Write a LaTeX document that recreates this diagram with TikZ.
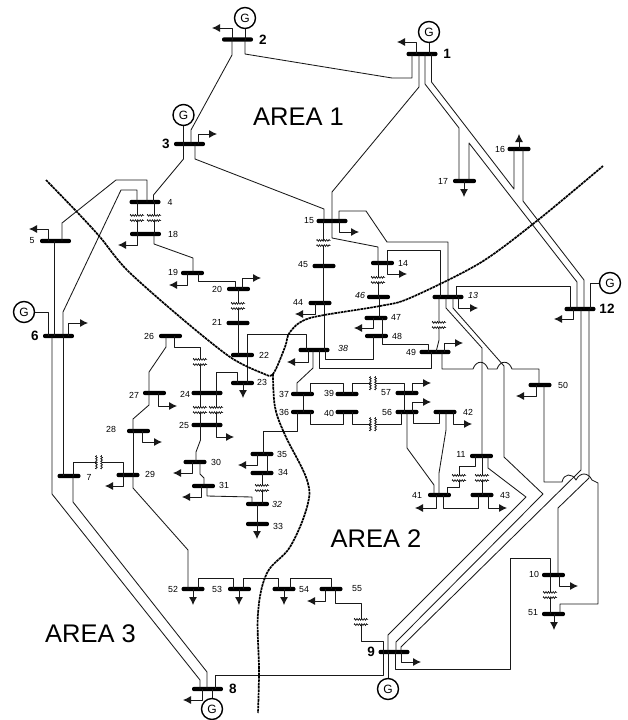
\documentclass[tikz,border=0pt]{standalone}
\usepackage{fontspec}
\setmainfont{Liberation Sans}
\usetikzlibrary{arrows.meta,decorations.pathmorphing}
\tikzset{
	bus/.style={fill=black, rounded corners=2pt, minimum width=23pt, minimum height=4.4pt, inner sep=0pt},
	mainbus/.style={bus, minimum width=31pt},
	line/.style={black!90, line width=0.85pt, line join=round},
	load/.style={line, -{Latex[length=8pt,width=8pt]}},
	gen/.style={draw, circle, line width=1.4pt, minimum size=21pt, inner sep=0pt, font=\fontsize{12}{12}\selectfont},
	num/.style={inner sep=0pt, font=\fontsize{8.8}{8.8}\selectfont},
	mainnum/.style={inner sep=0pt, font=\fontsize{13.5}{13.5}\bfseries\selectfont},
	area/.style={inner sep=0pt, font=\fontsize{25.5}{25.5}\selectfont},
	boundary/.style={black, line width=1.7pt, dash pattern=on 2.6pt off 0.7pt},
	winding/.style={line width=0.6pt, decorate, decoration={zigzag, segment length=2.4pt, amplitude=0.9pt}},
	xfmr/.pic={
		\fill[white] (-7,-2.6) rectangle (7,2.6);
		\draw[winding] (-7,-2.6) -- (7,-2.6);
		\draw[winding] (-7,2.6) -- (7,2.6);
	}
}
\newcommand{\loadarrow}[4]{\coordinate (#1t) at (#3,#4); \draw[load] (#2,0 |- #1) |- (#1t);}
\newcommand{\loaddrop}[3]{\coordinate (#1t) at (#2,#3); \draw[load] (#2,0 |- #1) -- (#1t);}
\begin{document}
\begin{tikzpicture}[x=1pt, y=-1pt]
	\useasboundingbox (0,0) rectangle (627,720);
	\node[mainbus] (b1) at (422,54) {};
	\node[mainbus] (b2) at (237.5,39.5) {};
	\node[mainbus] (b3) at (189.5,144) {};
	\node[mainbus] (b4) at (145,202) {};
	\node[mainbus] (b5) at (55.5,241) {};
	\node[mainbus] (b6) at (58.5,336) {};
	\node[bus] (b7) at (69,476) {};
	\node[mainbus] (b8) at (207.5,689) {};
	\node[mainbus] (b9) at (394,652) {};
	\node[bus] (b10) at (553.5,575) {};
	\node[bus] (b11) at (481.5,456) {};
	\node[mainbus] (b12) at (580,309) {};
	\node[mainbus] (b13) at (448,297) {};
	\node[bus] (b14) at (382.5,263) {};
	\node[mainbus] (b15) at (332,221) {};
	\node[bus] (b16) at (519,149) {};
	\node[bus] (b17) at (464.5,181) {};
	\node[mainbus] (b18) at (145.5,234) {};
	\node[bus] (b19) at (192.5,273) {};
	\node[bus] (b20) at (238.5,289) {};
	\node[bus] (b21) at (238,323) {};
	\node[bus] (b22) at (242.5,355) {};
	\node[bus] (b23) at (242.5,383) {};
	\node[mainbus] (b24) at (207,393) {};
	\node[mainbus] (b25) at (207,425) {};
	\node[bus] (b26) at (170.5,336) {};
	\node[bus] (b27) at (154.5,393) {};
	\node[bus] (b28) at (138.5,431) {};
	\node[bus] (b29) at (128,475) {};
	\node[bus] (b30) at (195,462) {};
	\node[bus] (b31) at (203.5,486) {};
	\node[bus] (b32) at (257.5,504) {};
	\node[bus] (b33) at (257.5,524) {};
	\node[bus] (b34) at (262,473) {};
	\node[bus] (b35) at (262,454) {};
	\node[bus] (b36) at (302.5,412) {};
	\node[bus] (b37) at (302.5,394) {};
	\node[mainbus] (b38) at (314,350) {};
	\node[bus] (b39) at (347,394) {};
	\node[bus] (b40) at (347,412) {};
	\node[bus] (b41) at (439.5,495) {};
	\node[bus] (b42) at (445,412) {};
	\node[bus] (b43) at (482,495) {};
	\node[bus] (b44) at (320,303) {};
	\node[bus] (b45) at (324,266) {};
	\node[bus] (b46) at (378.5,297) {};
	\node[bus] (b47) at (376,318) {};
	\node[bus] (b48) at (376.5,336) {};
	\node[mainbus] (b49) at (435,352) {};
	\node[bus] (b50) at (540,385) {};
	\node[bus] (b51) at (553.5,614) {};
	\node[bus] (b52) at (193,589) {};
	\node[bus] (b53) at (239.5,589) {};
	\node[bus] (b54) at (284,589) {};
	\node[bus] (b55) at (331,589) {};
	\node[bus] (b56) at (407,412) {};
	\node[bus] (b57) at (407,393) {};
	\node[mainnum] (n1) at (447,54) {1};
	\node[mainnum] (n2) at (263,40) {2};
	\node[mainnum] (n3) at (166,144) {3};
	\node[num] (n4) at (170,202) {4};
	\node[num] (n5) at (32,241) {5};
	\node[mainnum] (n6) at (35,336) {6};
	\node[num] (n7) at (89,477) {7};
	\node[mainnum] (n8) at (233,689) {8};
	\node[mainnum] (n9) at (371,652) {9};
	\node[num] (n10) at (534,574) {10};
	\node[num] (n11) at (461,454) {11};
	\node[mainnum] (n12) at (607,309) {12};
	\node[num] (n13) at (473,295) {\itshape 13};
	\node[num] (n14) at (403,263) {14};
	\node[num] (n15) at (309,221) {15};
	\node[num] (n16) at (500,149) {16};
	\node[num] (n17) at (443,181) {17};
	\node[num] (n18) at (173,234) {18};
	\node[num] (n19) at (173,272) {19};
	\node[num] (n20) at (217,289) {20};
	\node[num] (n21) at (217,322) {21};
	\node[num] (n22) at (264,355) {22};
	\node[num] (n23) at (262,382) {23};
	\node[num] (n24) at (185,394) {24};
	\node[num] (n25) at (184,425) {25};
	\node[num] (n26) at (149,336) {26};
	\node[num] (n27) at (134,395) {27};
	\node[num] (n28) at (111,429) {28};
	\node[num] (n29) at (150,474) {29};
	\node[num] (n30) at (216,462) {30};
	\node[num] (n31) at (224,485) {31};
	\node[num] (n32) at (277,504) {\itshape 32};
	\node[num] (n33) at (278,526) {33};
	\node[num] (n34) at (283,472) {34};
	\node[num] (n35) at (282,454) {35};
	\node[num] (n36) at (284,412) {36};
	\node[num] (n37) at (284,394) {37};
	\node[num] (n38) at (343,348) {\itshape 38};
	\node[num] (n39) at (329,393) {39};
	\node[num] (n40) at (329,413) {40};
	\node[num] (n41) at (417,495) {41};
	\node[num] (n42) at (468,412) {42};
	\node[num] (n43) at (505,495) {43};
	\node[num] (n44) at (298,302) {44};
	\node[num] (n45) at (303,265) {45};
	\node[num] (n46) at (360,295) {\itshape 46};
	\node[num] (n47) at (396,317) {47};
	\node[num] (n48) at (397,336) {48};
	\node[num] (n49) at (411,352) {49};
	\node[num] (n50) at (563,385) {50};
	\node[num] (n51) at (533,613) {51};
	\node[num] (n52) at (173,589) {52};
	\node[num] (n53) at (217,589) {53};
	\node[num] (n54) at (304,590) {54};
	\node[num] (n55) at (357,589) {55};
	\node[num] (n56) at (387,412) {56};
	\node[num] (n57) at (386,393) {57};
	\node[gen] (g1) at (429,32) {G};
	\node[gen] (g2) at (245,18) {G};
	\node[gen] (g3) at (183.5,115) {G};
	\node[gen] (g6) at (24,312) {G};
	\node[gen] (g8) at (212,709) {G};
	\node[gen] (g9) at (388,689) {G};
	\node[gen] (g12) at (610,283) {G};
	\node[area] (a1) at (298.5,117) {AREA 1};
	\node[area] (a2) at (376,539) {AREA 2};
	\node[area] (a3) at (90.5,634) {AREA 3};
	\draw[line] (g1.south) -- (429,0 |- b1);
	\draw[line] (g2.south) -- (245,0 |- b2);
	\draw[line] (g3.south) -- (183.5,0 |- b3);
	\draw[line] (g6.east) -- (48,312) -- (48,0 |- b6);
	\draw[line] (g8.north) -- (212,0 |- b8);
	\draw[line] (g9.north) -- (388,0 |- b9);
	\draw[line] (g12.west) -- (590,283) -- (590,0 |- b12);
	\draw[line] (245,0 |- b2) -- (245,54) -- (392,78) -- (412,78) -- (412,0 |- b1);
	\draw[line] (232,0 |- b2) -- (232,55) -- (191,130) -- (191,0 |- b3);
	\draw[line] (183.5,0 |- b3) -- (183.5,159) -- (153.5,195) -- (153.5,0 |- b4);
	\draw[line] (195,0 |- b3) -- (195,159) -- (324,209) -- (324,0 |- b15);
	\draw[line] (147,0 |- b4) -- (147,180) -- (116,180) -- (62,223) -- (62,0 |- b5);
	\draw[line] (137,0 |- b4) -- (137,190) -- (121,190) -- (63,312) -- (63,0 |- b6);
	\draw[line] (137,0 |- b4) -- (137,0 |- b18);
	\draw[line] (154,0 |- b4) -- (154,0 |- b18);
	\draw[line] (54,0 |- b5) -- (54,0 |- b6);
	\draw[line] (52,0 |- b6) -- (52,494) -- (200,680) -- (200,0 |- b8);
	\draw[line] (63,0 |- b6) -- (63,0 |- b7);
	\draw[line] (73,0 |- b7) -- (73,502) -- (207,672) -- (207,0 |- b8);
	\draw[line] (73,0 |- b7) -- (73,462) -- (123,462) -- (123,0 |- b29);
	\draw[line] (154,0 |- b18) -- (154,244) -- (193,258) -- (193,0 |- b19);
	\draw[line] (198,0 |- b19) -- (198,281) -- (235,281) -- (235,0 |- b20);
	\draw[line] (238,0 |- b20) -- (238,0 |- b21);
	\draw[line] (238,0 |- b21) -- (238,0 |- b22);
	\draw[line] (247,0 |- b22) -- (247,334) -- (306,334) -- (306,0 |- b38);
	\draw[line] (247,0 |- b22) -- (247,0 |- b23);
	\draw[line] (174,0 |- b26) -- (174,347) -- (200,347) -- (200,0 |- b24);
	\draw[line] (166,0 |- b26) -- (166,347) -- (149,372) -- (149,0 |- b27);
	\draw[line] (149,0 |- b27) -- (149,405) -- (133,419) -- (133,0 |- b28);
	\draw[line] (133,0 |- b28) -- (133,0 |- b29);
	\draw[line] (133,0 |- b29) -- (133,488) -- (188,550) -- (188,0 |- b52);
	\draw[line] (200,0 |- b24) -- (200,0 |- b25);
	\draw[line] (216,0 |- b24) -- (216,0 |- b25);
	\draw[line] (216,0 |- b24) -- (216,372) -- (237,372) -- (237,0 |- b23);
	\draw[line] (200.5,0 |- b25) -- (200.5,440) -- (196,452) -- (196,0 |- b30);
	\draw[line] (200,0 |- b30) -- (200,474) -- (204,478) -- (204,0 |- b31);
	\draw[line] (207,0 |- b31) -- (207,496) -- (252,497) -- (252,0 |- b32);
	\draw[line] (257,0 |- b32) -- (257,0 |- b33);
	\draw[line] (262,0 |- b34) -- (262,0 |- b32);
	\draw[line] (267,0 |- b35) -- (267,0 |- b34);
	\draw[line] (263,0 |- b35) -- (263,431) -- (297,431) -- (297,0 |- b36);
	\draw[line] (303,0 |- b37) -- (303,0 |- b36);
	\draw[line] (310,0 |- b37) -- (310,383) -- (343,383) -- (343,0 |- b39);
	\draw[line] (310,0 |- b36) -- (310,424) -- (343,424) -- (343,0 |- b40);
	\draw[line] (352,0 |- b39) -- (352,383) -- (404,383) -- (404,0 |- b57);
	\draw[line] (352,0 |- b40) -- (352,424) -- (401,424) -- (401,0 |- b56);
	\draw[line] (404,0 |- b57) -- (404,0 |- b56);
	\draw[line] (413,0 |- b56) -- (413,423) -- (439,423) -- (439,0 |- b42);
	\draw[line] (446,0 |- b42) -- (446,430) -- (439,473) -- (439,0 |- b41);
	\draw[line] (407,0 |- b56) -- (407,448) -- (434,485) -- (434,0 |- b41);
	\draw[line] (443,0 |- b41) -- (443,508) -- (478,508) -- (478,0 |- b43);
	\draw[line] (475,0 |- b11) -- (475,466) -- (459,466) -- (459,487) -- (447,487) -- (447,0 |- b41);
	\draw[line] (482,0 |- b11) -- (482,0 |- b43);
	\draw[line] (313,0 |- b38) -- (313,368) -- (297,383) -- (297,0 |- b37);
	\draw[line] (319,0 |- b38) -- (319,368) -- (431,368) -- (431,0 |- b49);
	\draw[line] (325,0 |- b38) -- (325,359) -- (373,359) -- (373,0 |- b48);
	\draw[line] (324,0 |- b44) -- (324,0 |- b38);
	\draw[line] (323.5,0 |- b45) -- (323.5,0 |- b44);
	\draw[line] (323.5,0 |- b15) -- (323.5,0 |- b45);
	\draw[line] (332,0 |- b15) -- (332,192) -- (419,87) -- (419,0 |- b1);
	\draw[line] (332,0 |- b15) -- (332,238) -- (378,247) -- (378,0 |- b14);
	\draw[line] (339,0 |- b15) -- (339,211) -- (366,211) -- (387,242) -- (448,242) -- (448,0 |- b13);
	\draw[line] (387,0 |- b14) -- (387,250) -- (440,250) -- (440,0 |- b13);
	\draw[line] (378,0 |- b14) -- (378,0 |- b46);
	\draw[line] (379,0 |- b46) -- (379,0 |- b47);
	\draw[line] (382,0 |- b47) -- (382,344) -- (428,344) -- (428,0 |- b49);
	\draw[line] (439,0 |- b13) -- (439,340) -- (436,0 |- b49);
	\draw[line] (442,0 |- b49) -- (442,369) -- (473,369) .. controls (476,360) and (485,360) .. (488,369) -- (497,369) .. controls (500,360) and (509,360) .. (512,369) -- (539,369) -- (539,0 |- b50);
	\draw[line] (544,0 |- b50) -- (544,482) -- (562,482) .. controls (564,473) and (572,473) .. (576,480) .. controls (580,472) and (588,472) .. (592,480) -- (598,483) -- (598,604) -- (560,604) -- (560,0 |- b51);
	\draw[line] (446,0 |- b13) -- (446,308) -- (482,348) -- (482,0 |- b11);
	\draw[line] (453,0 |- b13) -- (453,308) -- (504,366) -- (504,457) -- (543,494) -- (396,642) -- (396,0 |- b9);
	\draw[line] (488,0 |- b11) -- (488,468) -- (526,497) -- (388,635) -- (388,0 |- b9);
	\draw[line] (581,0 |- b12) -- (581,470) -- (401,647) -- (401,0 |- b9);
	\draw[line] (589,0 |- b12) -- (589,478) -- (558,508) -- (558,0 |- b10);
	\draw[line] (425,0 |- b1) -- (425,84) -- (459,128) -- (459,0 |- b17);
	\draw[line] (431.5,0 |- b1) -- (431.5,82) -- (514,189) -- (514,0 |- b16);
	\draw[line] (469,0 |- b17) -- (469,143) -- (577,282) -- (577,0 |- b12);
	\draw[line] (523,0 |- b16) -- (523,201) -- (584,280) -- (584,0 |- b12);
	\draw[line] (456,0 |- b13) -- (456,286) -- (570,286) -- (570,0 |- b12);
	\draw[line] (198,0 |- b52) -- (198,578) -- (233,578) -- (233,0 |- b53);
	\draw[line] (243,0 |- b53) -- (243,578) -- (278,578) -- (278,0 |- b54);
	\draw[line] (290,0 |- b54) -- (290,578) -- (331,578) -- (331,0 |- b55);
	\draw[line] (335,0 |- b55) -- (335,603) -- (361,603) -- (361,641) -- (383,641) -- (383,0 |- b9);
	\draw[line] (383,0 |- b9) -- (383,675) -- (215,675) -- (215,0 |- b8);
	\draw[line] (395,0 |- b9) -- (395,669) -- (510,669) -- (510,558) -- (550,558) -- (550,0 |- b10);
	\draw[line] (550,0 |- b10) -- (550,0 |- b51);
	\pic at (137,218) {xfmr};
	\pic at (154,218) {xfmr};
	\pic at (238,306) {xfmr};
	\pic at (200,362) {xfmr};
	\pic at (200,410) {xfmr};
	\pic at (216,410) {xfmr};
	\pic at (262,488) {xfmr};
	\pic at (323.5,243) {xfmr};
	\pic at (378,280) {xfmr};
	\pic at (439,325) {xfmr};
	\pic at (459,478) {xfmr};
	\pic at (482,478) {xfmr};
	\pic at (361,622) {xfmr};
	\pic at (550,595) {xfmr};
	\pic[rotate=90] at (99,462) {xfmr};
	\pic[rotate=90] at (373,383) {xfmr};
	\pic[rotate=90] at (373,424) {xfmr};
	\loadarrow{b1}{416}{397}{42}
	\loadarrow{b2}{232}{212}{28}
	\loadarrow{b3}{198}{217}{134}
	\loadarrow{b5}{48}{29}{229}
	\loadarrow{b6}{68}{88}{323}
	\loadarrow{b18}{137}{118}{245}
	\loadarrow{b19}{187}{169}{285}
	\loadarrow{b20}{242}{261}{278}
	\loadarrow{b27}{158}{177}{406}
	\loadarrow{b28}{142}{162}{442}
	\loadarrow{b29}{123}{105}{486}
	\loadarrow{b25}{216}{234}{437}
	\loadarrow{b30}{192}{173}{473}
	\loadarrow{b31}{201}{182}{497}
	\loadarrow{b35}{257}{238}{465}
	\loadarrow{b38}{308}{287}{362}
	\loadarrow{b44}{315}{295}{314}
	\loadarrow{b15}{339}{359}{232}
	\loadarrow{b14}{387}{407}{274}
	\loadarrow{b47}{373}{354}{328}
	\loadarrow{b49}{444}{463}{343}
	\loadarrow{b13}{458}{478}{308}
	\loadarrow{b12}{573}{554}{319}
	\loadarrow{b50}{536}{516}{396}
	\loadarrow{b57}{412}{431}{383}
	\loadarrow{b56}{412}{431}{402}
	\loadarrow{b42}{453}{472}{424}
	\loadarrow{b41}{436}{415}{508}
	\loadarrow{b43}{488}{507}{508}
	\loadarrow{b10}{559}{578}{586}
	\loadarrow{b55}{325}{307}{601}
	\loadarrow{b9}{401}{421}{662}
	\loadarrow{b8}{202}{183}{700}
	\loaddrop{b16}{519}{134}
	\loaddrop{b17}{464}{197}
	\loaddrop{b23}{243}{398}
	\loaddrop{b33}{257}{539}
	\loaddrop{b51}{554}{630}
	\loaddrop{b52}{193}{605}
	\loaddrop{b53}{239}{605}
	\loaddrop{b54}{284}{605}
	\draw[boundary] plot[smooth, tension=0.5] coordinates {(46,180) (77,212) (100,237) (127,270) (180,317) (230,357) (262,373) (273,374) (285,347) (290,332) (310,318) (380,306) (410,298) (480,263) (538,220) (603,166)};
	\draw[boundary] plot[smooth, tension=0.6] coordinates {(273,374) (275,407) (285,435) (307,480) (307,507) (290,547) (267,573) (258,613) (259,670) (258,713)};
\end{tikzpicture}
\end{document}
